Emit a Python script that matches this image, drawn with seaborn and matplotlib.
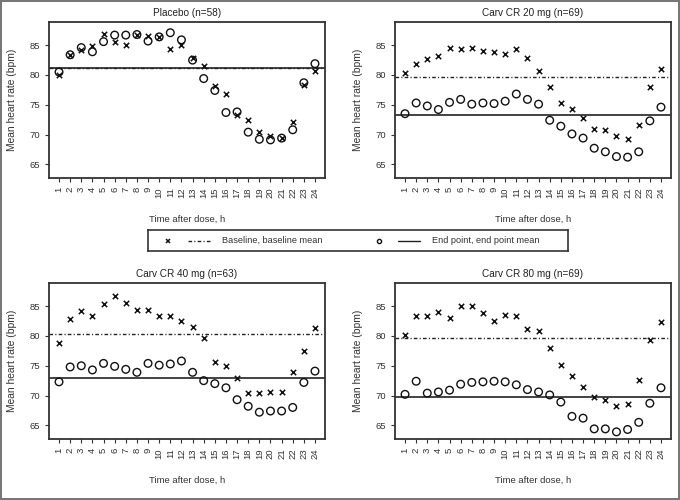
import matplotlib
matplotlib.use("Agg")
import matplotlib.pyplot as plt
import seaborn as sns
import pandas as pd

# hours after dose
hours = list(range(1, 25))

# baseline (x) and end point (o) mean heart rate per hour, bpm
placebo_base = [80.0, 83.4, 84.2, 84.8, 86.9, 85.5, 85.1, 86.8, 86.6, 86.4, 84.4, 85.1,
                82.8, 81.5, 78.2, 76.8, 73.3, 72.4, 70.4, 69.7, 69.4, 72.1, 78.3, 80.7]
placebo_end = [80.5, 83.4, 84.6, 83.9, 85.6, 86.7, 86.7, 86.8, 85.7, 86.4, 87.1, 85.9,
               82.5, 79.4, 77.4, 73.7, 73.8, 70.4, 69.2, 69.1, 69.4, 70.8, 78.7, 81.9]

cr20_base = [80.4, 81.9, 82.7, 83.2, 84.6, 84.3, 84.5, 84.0, 83.9, 83.6, 84.3, 82.9,
             80.7, 77.9, 75.3, 74.3, 72.8, 71.0, 70.8, 69.8, 69.3, 71.6, 77.9, 81.0]
cr20_end = [73.5, 75.3, 74.8, 74.2, 75.4, 75.9, 75.1, 75.3, 75.2, 75.6, 76.8, 75.9,
            75.1, 72.4, 71.4, 70.1, 69.4, 67.7, 67.1, 66.3, 66.2, 67.1, 72.3, 74.6]

cr40_base = [78.9, 82.9, 84.2, 83.4, 85.3, 86.7, 85.6, 84.3, 84.4, 83.4, 83.4, 82.6,
             81.5, 79.6, 75.7, 74.9, 73.0, 70.4, 70.4, 70.6, 70.6, 73.9, 77.4, 81.3]
cr40_end = [72.3, 74.8, 75.0, 74.3, 75.4, 74.9, 74.4, 73.9, 75.4, 75.1, 75.3, 75.8,
            73.9, 72.5, 72.0, 71.3, 69.3, 68.2, 67.2, 67.4, 67.4, 68.0, 72.2, 74.1]

cr80_base = [80.1, 83.4, 83.4, 84.0, 83.1, 85.1, 85.1, 83.9, 82.6, 83.5, 83.3, 81.2,
             80.9, 78.0, 75.1, 73.2, 71.5, 69.8, 69.2, 68.3, 68.6, 72.6, 79.3, 82.4]
cr80_end = [70.2, 72.4, 70.4, 70.6, 70.9, 71.9, 72.2, 72.3, 72.4, 72.3, 71.8, 71.0,
            70.6, 70.1, 68.9, 66.5, 66.2, 64.4, 64.4, 63.9, 64.3, 65.5, 68.7, 71.3]

titles = ["Placebo (n=58)", "Carv CR 20 mg (n=69)", "Carv CR 40 mg (n=63)", "Carv CR 80 mg (n=69)"]
baseline_means = [81.1, 79.7, 80.3, 79.7]
endpoint_means = [81.1, 73.2, 73.0, 69.8]

sns.set_style("ticks")
plt.rcParams["font.family"] = ["Liberation Sans", "DejaVu Sans"]

fig = plt.figure(figsize=(6.8, 5.0), dpi=100)
fig.patch.set_edgecolor("#777777")
fig.patch.set_linewidth(1.5)

W, H = 680.0, 500.0
boxes = [(49, 22), (395, 22), (49, 283), (395, 283)]  # left, top in px
aw, ah = 276, 156

series = [(placebo_base, placebo_end), (cr20_base, cr20_end),
          (cr40_base, cr40_end), (cr80_base, cr80_end)]

dashdot = (0, (2.6, 1.6, 0.8, 1.6))

for i, (base, end) in enumerate(series):
    left, top = boxes[i]
    ax = fig.add_axes([left / W, 1 - (top + ah) / H, aw / W, ah / H])
    df = pd.DataFrame({"hour": hours, "base": base, "end": end})

    ax.axhline(baseline_means[i], color="#222222", lw=1.0, linestyle=dashdot, zorder=1)
    ax.axhline(endpoint_means[i], color="#222222", lw=1.2, zorder=1)

    sns.scatterplot(data=df, x="hour", y="base", marker="x", color="#111111",
                    s=15, linewidth=1.1, ax=ax, zorder=3)
    sns.scatterplot(data=df, x="hour", y="end", marker="o", facecolor="none",
                    edgecolor="#111111", s=30, linewidth=1.0, ax=ax, zorder=2)

    ax.set_xlim(0.1, 24.9)
    ax.set_ylim(62.7, 88.9)
    ax.set_xticks(hours)
    ax.set_xticklabels([str(h) for h in hours], rotation=90)
    ax.set_yticks([65, 70, 75, 80, 85])
    ax.tick_params(labelsize=6.8, length=3, width=0.8, colors="#333333", labelcolor="#333333")
    for sp in ax.spines.values():
        sp.set_visible(True)
        sp.set_color("#333333")
        sp.set_linewidth(1.3)
    ax.set_title(titles[i], fontsize=7.2, pad=4.5, color="#222222")
    ax.set_xlabel("Time after dose, h", fontsize=6.8, labelpad=12, color="#333333")
    ax.set_ylabel("Mean heart rate (bpm)", fontsize=7.4, labelpad=9, color="#333333")

# legend strip between the two rows
lax = fig.add_axes([148 / W, 1 - 251 / H, 420 / W, 21 / H])
lax.set_xlim(0, 420)
lax.set_ylim(0, 21)
lax.set_xticks([])
lax.set_yticks([])
for sp in lax.spines.values():
    sp.set_color("#333333")
    sp.set_linewidth(1.2)
lax.plot([20], [10.5], marker="x", color="#111111", ms=3.5, mew=1.1, ls="none")
lax.plot([40, 62], [10.5, 10.5], color="#222222", lw=1.0, ls=dashdot)
lax.text(74, 10.5, "Baseline, baseline mean", fontsize=6.6, va="center", color="#333333")
lax.plot([231], [10.5], marker="o", mfc="none", mec="#111111", ms=3.0, mew=1.0, ls="none")
lax.plot([250, 272], [10.5, 10.5], color="#222222", lw=1.0)
lax.text(284, 10.5, "End point, end point mean", fontsize=6.6, va="center", color="#333333")

fig.savefig("out.png", dpi=100, edgecolor=fig.get_edgecolor())
